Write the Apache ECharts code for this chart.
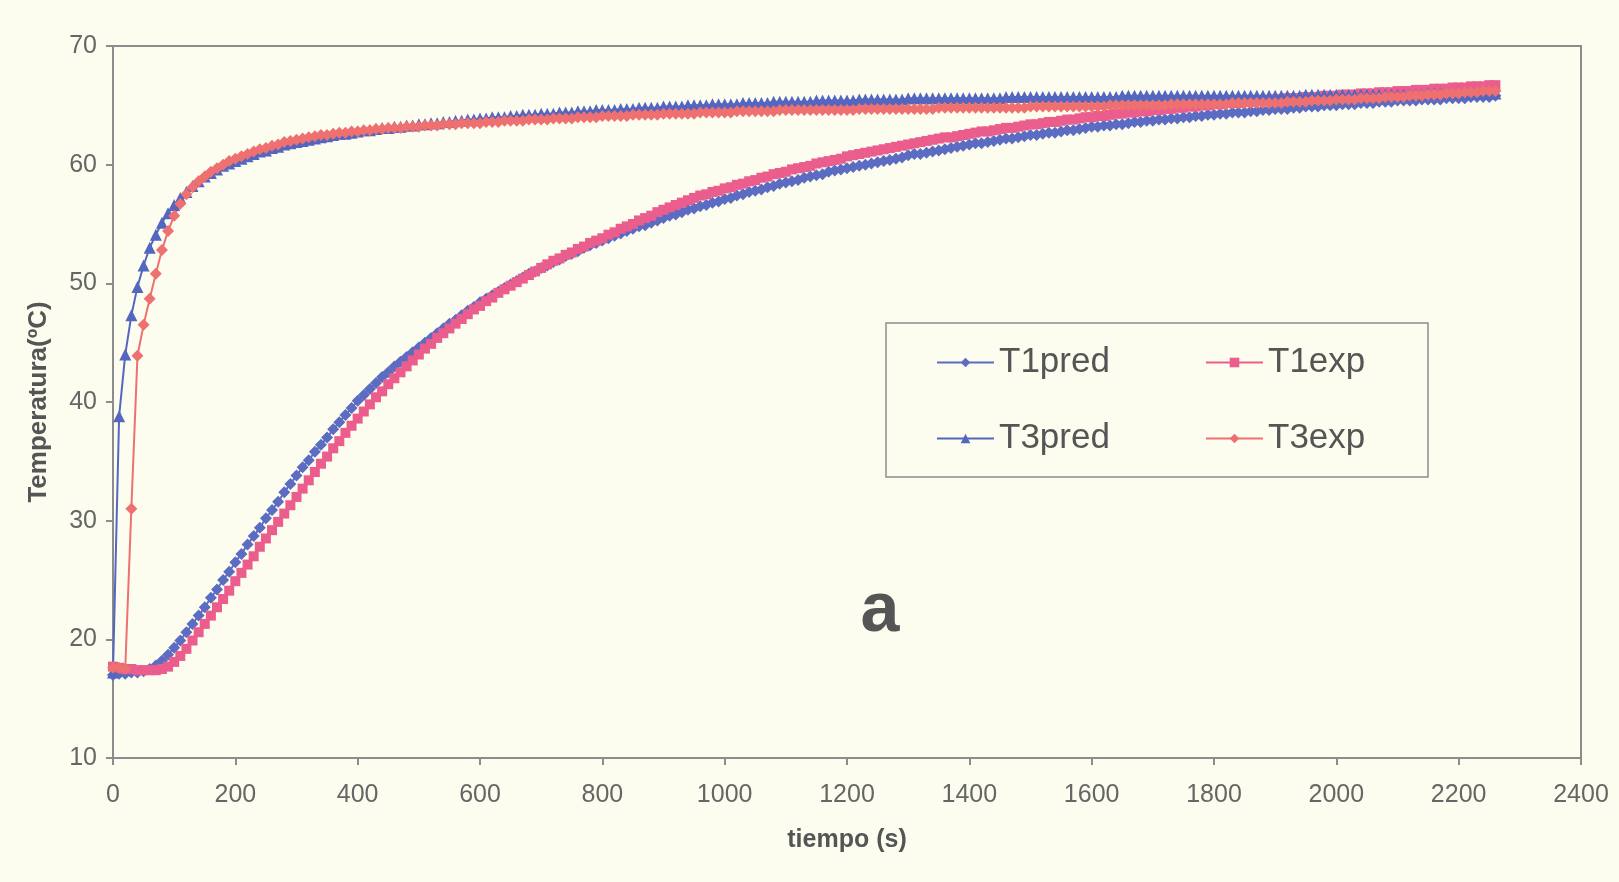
<!DOCTYPE html>
<html>
<head>
<meta charset="utf-8">
<style>
    html, body { margin: 0; padding: 0; background: #fdfdef; }
    #chart { width: 1619px; height: 882px; }
</style>
<script src="https://cdn.jsdelivr.net/npm/echarts@6/dist/echarts.min.js"></script>
</head>
<body>
<div id="chart"></div>
<script>
// tiempo (s), muestreo cada 10 s
const tiempo = [
    0, 10, 20, 30, 40, 50, 60, 70, 80, 90,
    100, 110, 120, 130, 140, 150, 160, 170, 180, 190,
    200, 210, 220, 230, 240, 250, 260, 270, 280, 290,
    300, 310, 320, 330, 340, 350, 360, 370, 380, 390,
    400, 410, 420, 430, 440, 450, 460, 470, 480, 490,
    500, 510, 520, 530, 540, 550, 560, 570, 580, 590,
    600, 610, 620, 630, 640, 650, 660, 670, 680, 690,
    700, 710, 720, 730, 740, 750, 760, 770, 780, 790,
    800, 810, 820, 830, 840, 850, 860, 870, 880, 890,
    900, 910, 920, 930, 940, 950, 960, 970, 980, 990,
    1000, 1010, 1020, 1030, 1040, 1050, 1060, 1070, 1080, 1090,
    1100, 1110, 1120, 1130, 1140, 1150, 1160, 1170, 1180, 1190,
    1200, 1210, 1220, 1230, 1240, 1250, 1260, 1270, 1280, 1290,
    1300, 1310, 1320, 1330, 1340, 1350, 1360, 1370, 1380, 1390,
    1400, 1410, 1420, 1430, 1440, 1450, 1460, 1470, 1480, 1490,
    1500, 1510, 1520, 1530, 1540, 1550, 1560, 1570, 1580, 1590,
    1600, 1610, 1620, 1630, 1640, 1650, 1660, 1670, 1680, 1690,
    1700, 1710, 1720, 1730, 1740, 1750, 1760, 1770, 1780, 1790,
    1800, 1810, 1820, 1830, 1840, 1850, 1860, 1870, 1880, 1890,
    1900, 1910, 1920, 1930, 1940, 1950, 1960, 1970, 1980, 1990,
    2000, 2010, 2020, 2030, 2040, 2050, 2060, 2070, 2080, 2090,
    2100, 2110, 2120, 2130, 2140, 2150, 2160, 2170, 2180, 2190,
    2200, 2210, 2220, 2230, 2240, 2250, 2260
];

const T1pred = [
    17.0, 17.1, 17.1, 17.2, 17.2, 17.3, 17.5, 17.8, 18.2, 18.7,
    19.3, 19.9, 20.6, 21.3, 22.0, 22.7, 23.5, 24.2, 25.0, 25.7,
    26.5, 27.2, 28.0, 28.7, 29.4, 30.2, 30.9, 31.6, 32.4, 33.1,
    33.8, 34.5, 35.1, 35.8, 36.4, 37.0, 37.7, 38.3, 38.9, 39.5,
    40.1, 40.6, 41.1, 41.6, 42.1, 42.5, 43.0, 43.4, 43.8, 44.2,
    44.6, 45.0, 45.4, 45.8, 46.2, 46.6, 46.9, 47.3, 47.7, 48.0,
    48.4, 48.7, 49.0, 49.3, 49.6, 49.9, 50.2, 50.5, 50.8, 51.0,
    51.3, 51.5, 51.8, 52.0, 52.3, 52.5, 52.7, 53.0, 53.2, 53.4,
    53.6, 53.8, 54.0, 54.2, 54.4, 54.6, 54.8, 54.9, 55.1, 55.3,
    55.5, 55.7, 55.8, 56.0, 56.2, 56.3, 56.5, 56.6, 56.8, 56.9,
    57.1, 57.2, 57.4, 57.5, 57.7, 57.8, 57.9, 58.1, 58.2, 58.4,
    58.5, 58.6, 58.7, 58.9, 59.0, 59.1, 59.2, 59.4, 59.5, 59.6,
    59.7, 59.8, 59.9, 60.0, 60.1, 60.2, 60.3, 60.4, 60.5, 60.6,
    60.8, 60.9, 60.9, 61.0, 61.1, 61.2, 61.3, 61.4, 61.5, 61.6,
    61.7, 61.8, 61.8, 61.9, 62.0, 62.1, 62.2, 62.2, 62.3, 62.4,
    62.5, 62.5, 62.6, 62.7, 62.7, 62.8, 62.9, 62.9, 63.0, 63.1,
    63.2, 63.2, 63.3, 63.3, 63.4, 63.4, 63.5, 63.6, 63.6, 63.7,
    63.7, 63.8, 63.8, 63.9, 63.9, 64.0, 64.0, 64.1, 64.1, 64.2,
    64.2, 64.3, 64.3, 64.4, 64.4, 64.4, 64.5, 64.5, 64.6, 64.6,
    64.7, 64.7, 64.7, 64.8, 64.8, 64.9, 64.9, 64.9, 65.0, 65.0,
    65.0, 65.1, 65.1, 65.1, 65.2, 65.2, 65.2, 65.3, 65.3, 65.3,
    65.4, 65.4, 65.4, 65.4, 65.5, 65.5, 65.5, 65.5, 65.6, 65.6,
    65.6, 65.6, 65.7, 65.7, 65.7, 65.7, 65.8
];

const T1exp = [
    17.7, 17.6, 17.5, 17.5, 17.4, 17.4, 17.4, 17.4, 17.5, 17.7,
    18.1, 18.6, 19.2, 19.9, 20.6, 21.3, 22.0, 22.7, 23.4, 24.1,
    24.9, 25.6, 26.3, 27.0, 27.8, 28.5, 29.2, 29.9, 30.6, 31.3,
    32.0, 32.7, 33.4, 34.1, 34.8, 35.4, 36.1, 36.7, 37.4, 38.0,
    38.6, 39.2, 39.8, 40.4, 40.9, 41.5, 42.0, 42.5, 43.0, 43.5,
    44.0, 44.5, 44.9, 45.4, 45.8, 46.2, 46.6, 47.0, 47.4, 47.8,
    48.1, 48.5, 48.8, 49.2, 49.5, 49.8, 50.1, 50.4, 50.7, 51.0,
    51.3, 51.6, 51.9, 52.1, 52.4, 52.6, 52.9, 53.1, 53.4, 53.6,
    53.8, 54.1, 54.3, 54.6, 54.8, 55.0, 55.3, 55.5, 55.7, 56.0,
    56.2, 56.4, 56.6, 56.8, 57.0, 57.2, 57.4, 57.5, 57.7, 57.8,
    58.0, 58.1, 58.3, 58.4, 58.6, 58.7, 58.9, 59.0, 59.2, 59.3,
    59.4, 59.6, 59.7, 59.8, 59.9, 60.1, 60.2, 60.3, 60.4, 60.5,
    60.7, 60.8, 60.9, 61.0, 61.1, 61.2, 61.3, 61.4, 61.5, 61.6,
    61.7, 61.8, 61.9, 62.0, 62.1, 62.2, 62.3, 62.3, 62.4, 62.5,
    62.6, 62.7, 62.8, 62.8, 62.9, 63.0, 63.1, 63.1, 63.2, 63.3,
    63.4, 63.4, 63.5, 63.6, 63.6, 63.7, 63.8, 63.8, 63.9, 64.0,
    64.0, 64.1, 64.1, 64.2, 64.3, 64.3, 64.4, 64.4, 64.5, 64.5,
    64.6, 64.6, 64.7, 64.7, 64.8, 64.8, 64.9, 64.9, 65.0, 65.0,
    65.1, 65.1, 65.2, 65.2, 65.2, 65.3, 65.3, 65.4, 65.4, 65.4,
    65.5, 65.5, 65.6, 65.6, 65.6, 65.7, 65.7, 65.7, 65.8, 65.8,
    65.8, 65.9, 65.9, 65.9, 66.0, 66.0, 66.0, 66.1, 66.1, 66.1,
    66.2, 66.2, 66.2, 66.3, 66.3, 66.3, 66.4, 66.4, 66.4, 66.5,
    66.5, 66.5, 66.6, 66.6, 66.6, 66.7, 66.7
];

const T3pred = [
    17.2, 38.8, 44.0, 47.3, 49.7, 51.5, 53.0, 54.1, 55.1, 55.9,
    56.6, 57.2, 57.7, 58.2, 58.6, 59.0, 59.3, 59.6, 59.9, 60.1,
    60.3, 60.5, 60.7, 60.9, 61.1, 61.2, 61.4, 61.5, 61.7, 61.8,
    61.9, 62.0, 62.1, 62.2, 62.3, 62.4, 62.5, 62.6, 62.6, 62.7,
    62.8, 62.9, 62.9, 63.0, 63.1, 63.1, 63.2, 63.2, 63.3, 63.3,
    63.4, 63.4, 63.5, 63.5, 63.6, 63.6, 63.7, 63.7, 63.8, 63.8,
    63.9, 63.9, 64.0, 64.0, 64.0, 64.1, 64.1, 64.2, 64.2, 64.2,
    64.3, 64.3, 64.3, 64.4, 64.4, 64.4, 64.5, 64.5, 64.5, 64.6,
    64.6, 64.6, 64.6, 64.7, 64.7, 64.7, 64.8, 64.8, 64.8, 64.8,
    64.9, 64.9, 64.9, 64.9, 65.0, 65.0, 65.0, 65.0, 65.1, 65.1,
    65.1, 65.1, 65.1, 65.2, 65.2, 65.2, 65.2, 65.2, 65.3, 65.3,
    65.3, 65.3, 65.3, 65.3, 65.3, 65.4, 65.4, 65.4, 65.4, 65.4,
    65.4, 65.4, 65.5, 65.5, 65.5, 65.5, 65.5, 65.5, 65.5, 65.5,
    65.6, 65.6, 65.6, 65.6, 65.6, 65.6, 65.6, 65.6, 65.6, 65.6,
    65.6, 65.6, 65.6, 65.6, 65.6, 65.6, 65.7, 65.7, 65.7, 65.7,
    65.7, 65.7, 65.7, 65.7, 65.7, 65.7, 65.7, 65.7, 65.7, 65.7,
    65.7, 65.7, 65.7, 65.7, 65.7, 65.8, 65.8, 65.8, 65.8, 65.8,
    65.8, 65.8, 65.8, 65.8, 65.8, 65.8, 65.8, 65.8, 65.8, 65.8,
    65.8, 65.8, 65.8, 65.8, 65.8, 65.8, 65.8, 65.8, 65.8, 65.8,
    65.8, 65.8, 65.8, 65.8, 65.8, 65.9, 65.9, 65.9, 65.9, 65.9,
    65.9, 65.9, 65.9, 65.9, 65.9, 65.9, 65.9, 65.9, 65.9, 65.9,
    65.9, 65.9, 65.9, 65.9, 65.9, 66.0, 66.0, 66.0, 66.0, 66.0,
    66.0, 66.0, 66.0, 66.0, 66.0, 66.0, 66.0
];

const T3exp = [
    17.6, 17.6, 17.5, 31.0, 43.9, 46.5, 48.7, 50.8, 52.8, 54.4,
    55.7, 56.7, 57.5, 58.1, 58.6, 59.0, 59.4, 59.7, 60.0, 60.3,
    60.5, 60.7, 60.9, 61.1, 61.3, 61.4, 61.6, 61.7, 61.9, 62.0,
    62.1, 62.2, 62.3, 62.4, 62.5, 62.5, 62.6, 62.7, 62.7, 62.8,
    62.8, 62.9, 62.9, 63.0, 63.0, 63.1, 63.1, 63.1, 63.2, 63.2,
    63.2, 63.3, 63.3, 63.3, 63.4, 63.4, 63.4, 63.5, 63.5, 63.5,
    63.5, 63.6, 63.6, 63.6, 63.7, 63.7, 63.7, 63.7, 63.8, 63.8,
    63.8, 63.8, 63.9, 63.9, 63.9, 63.9, 64.0, 64.0, 64.0, 64.0,
    64.1, 64.1, 64.1, 64.1, 64.1, 64.2, 64.2, 64.2, 64.2, 64.2,
    64.3, 64.3, 64.3, 64.3, 64.3, 64.3, 64.4, 64.4, 64.4, 64.4,
    64.4, 64.4, 64.5, 64.5, 64.5, 64.5, 64.5, 64.5, 64.5, 64.6,
    64.6, 64.6, 64.6, 64.6, 64.6, 64.6, 64.6, 64.6, 64.6, 64.6,
    64.6, 64.6, 64.7, 64.7, 64.7, 64.7, 64.7, 64.7, 64.7, 64.7,
    64.7, 64.7, 64.7, 64.7, 64.7, 64.8, 64.8, 64.8, 64.8, 64.8,
    64.8, 64.8, 64.8, 64.8, 64.8, 64.8, 64.8, 64.8, 64.8, 64.8,
    64.9, 64.9, 64.9, 64.9, 64.9, 64.9, 64.9, 64.9, 64.9, 64.9,
    64.9, 64.9, 64.9, 65.0, 65.0, 65.0, 65.0, 65.0, 65.0, 65.0,
    65.0, 65.0, 65.0, 65.1, 65.1, 65.1, 65.1, 65.1, 65.1, 65.1,
    65.1, 65.1, 65.1, 65.2, 65.2, 65.2, 65.2, 65.2, 65.2, 65.2,
    65.2, 65.2, 65.3, 65.3, 65.3, 65.3, 65.4, 65.4, 65.4, 65.4,
    65.5, 65.5, 65.5, 65.5, 65.6, 65.6, 65.6, 65.6, 65.7, 65.7,
    65.7, 65.7, 65.8, 65.8, 65.8, 65.9, 65.9, 65.9, 66.0, 66.0,
    66.0, 66.1, 66.1, 66.1, 66.2, 66.2, 66.2
];

const xTicks = { min: 0, max: 2400, interval: 200 };
const yTicks = { min: 10, max: 70, interval: 10 };

const chart = echarts.init(document.getElementById("chart"), null, { renderer: "canvas" });

let textColor = "#666";
let axisColor = "#8c8c8c";
let bg = "#fdfdef";
let fuente = "Liberation Sans, Arial, sans-serif";

function serie(name, values, color, symbol, size) {
    return {
        name: name,
        type: "line",
        data: tiempo.map((t, i) => [t, values[i]]),
        symbol: symbol,
        symbolSize: size,
        showSymbol: true,
        lineStyle: { color: color, width: 2 },
        itemStyle: { color: color, borderWidth: 0 },
        animation: false,
    };
}

let legendText = { color: "#555", fontSize: 35, fontFamily: fuente };

let option = {
    backgroundColor: bg,
    animation: false,
    grid: {
        left: 113, right: 38, top: 46, bottom: 124,
        show: true, borderColor: axisColor, borderWidth: 2, backgroundColor: bg,
    },
    legend: [
        {
            data: ["T1pred", "T3pred"],
            orient: "vertical",
            left: 936, top: 345, padding: 0,
            itemWidth: 57, itemHeight: 12, itemGap: 41,
            textStyle: legendText,
        },
        {
            data: ["T1exp", "T3exp"],
            orient: "vertical",
            left: 1205, top: 345, padding: 0,
            itemWidth: 57, itemHeight: 12, itemGap: 41,
            textStyle: legendText,
        },
    ],
    xAxis: {
        type: "value",
        min: xTicks.min, max: xTicks.max, interval: xTicks.interval,
        name: "tiempo (s)",
        nameLocation: "middle",
        nameGap: 70,
        nameTextStyle: { color: "#555", fontSize: 25, fontWeight: "bold", fontFamily: fuente },
        axisLine: { show: true, lineStyle: { color: axisColor, width: 2 } },
        axisTick: { show: true, length: 7, lineStyle: { color: axisColor, width: 2 } },
        axisLabel: { color: textColor, fontSize: 25, margin: 25, fontFamily: fuente, formatter: (v) => String(v) },
        splitLine: { show: false },
    },
    yAxis: {
        type: "value",
        min: yTicks.min, max: yTicks.max, interval: yTicks.interval,
        name: "Temperatura(ºC)",
        nameLocation: "middle",
        nameRotate: 90,
        nameGap: 61,
        nameTextStyle: { color: "#555", fontSize: 26, fontWeight: "bold", fontFamily: fuente },
        axisLine: { show: true, lineStyle: { color: axisColor, width: 2 } },
        axisTick: { show: true, length: 7, lineStyle: { color: axisColor, width: 2 } },
        axisLabel: { color: textColor, fontSize: 25, margin: 16, fontFamily: fuente },
        splitLine: { show: false },
    },
    graphic: [
        {
            type: "rect",
            z: 1,
            shape: { x: 886, y: 323, width: 542, height: 154 },
            style: { fill: bg, stroke: "#8c8c8c", lineWidth: 1.5 },
        },
        {
            type: "text",
            z: 5,
            style: {
                text: "a", x: 880, y: 612,
                textAlign: "center", textVerticalAlign: "middle",
                font: "bold 70px " + fuente,
                fill: "#555",
            },
        },
    ],
    series: [
        serie("T1pred", T1pred, "#5b6cc2", "diamond", 12),
        serie("T1exp", T1exp, "#eb5d8d", "rect", 10),
        serie("T3pred", T3pred, "#5366c0", "triangle", 12),
        serie("T3exp", T3exp, "#ef7070", "diamond", 12),
    ],
};

chart.setOption(option);
</script>
</body>
</html>
